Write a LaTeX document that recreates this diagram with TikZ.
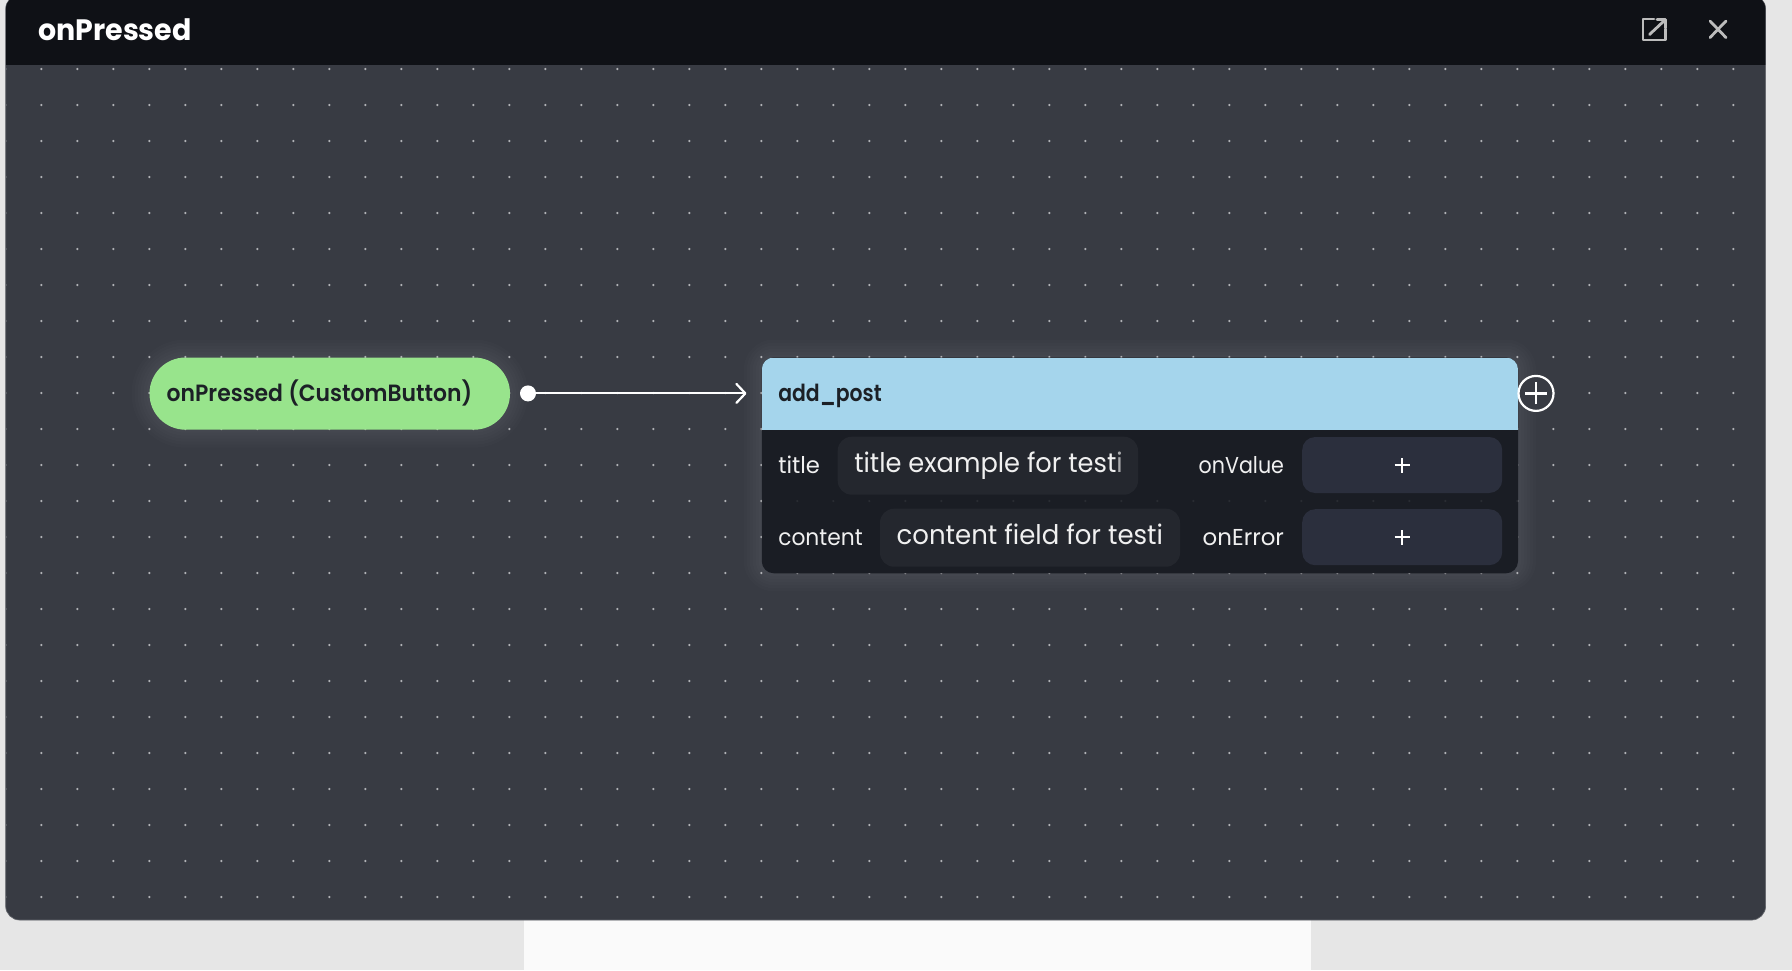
\documentclass[tikz,border=0pt]{standalone}
\usepackage{fontspec}
\usepackage{graphicx}
\setmainfont{Poppins}[BoldFont={Poppins SemiBold}]
\newfontfamily\titlefont{Poppins}[UprightFont={* Bold}]
\usetikzlibrary{arrows.meta}
\definecolor{bgout}{HTML}{E6E6E6}
\definecolor{sheet}{HTML}{FAFAFA}
\definecolor{panel}{HTML}{383B43}
\definecolor{panelline}{HTML}{62656B}
\definecolor{headbar}{HTML}{0F1116}
\definecolor{griddot}{HTML}{B0B2B6}
\definecolor{pillgreen}{HTML}{98E48C}
\definecolor{headblue}{HTML}{A5D5EC}
\definecolor{cardbody}{HTML}{1A1D24}
\definecolor{inputbox}{HTML}{24272E}
\definecolor{addbox}{HTML}{2B2F3D}
\definecolor{darktext}{HTML}{1C2026}
\definecolor{lighttext}{HTML}{F0F0F0}
\definecolor{iconcol}{HTML}{BCBCBC}
\newcommand{\fw}[2]{\resizebox{#1pt}{\height}{#2}}
\tikzset{
  lbl/.style={anchor=base west,inner sep=0pt,outer sep=0pt},
  darklbl/.style={lbl,text=darktext,font=\bfseries\fontsize{23.5}{26}\selectfont},
  fieldlbl/.style={lbl,text=lighttext,font=\fontsize{23}{26}\selectfont},
  valuelbl/.style={lbl,text=lighttext,font=\fontsize{27}{30}\selectfont},
  inputrect/.style={fill=inputbox,rounded corners=14pt,inner sep=0pt,minimum height=58pt},
  addrect/.style={fill=addbox,rounded corners=13pt,inner sep=0pt,minimum width=200pt,minimum height=56pt},
  plusmark/.style={white,line width=2pt},
  iconline/.style={draw=iconcol,line width=2.8pt,line cap=round,line join=round},
  halo/.style={white,opacity=.011}
}
\begin{document}
\begin{tikzpicture}[x=1pt,y=-1pt]
\useasboundingbox (0,0) rectangle (1792,970);
\fill[bgout] (0,0) rectangle (1792,970);
\fill[sheet] (524,915) rectangle (1311,970);
% panel
\fill[panel,rounded corners=14pt,draw=panelline,line width=.7pt] (5.7,-5) rectangle (1765.6,920);
\begin{scope}
  \clip[rounded corners=14pt] (6,-5) rectangle (1765.3,919.6);
  \fill[headbar] (0,-5) rectangle (1792,64.6);
  \foreach \i in {0,...,48}{
    \foreach \j in {0,...,23}{
      \fill[griddot] ({5.3+36*\i},{69+36*\j}) circle (1.25pt);
    }
  }
\end{scope}
% halos
\foreach \g in {3,6,9,12,15,18}{
  \fill[halo,rounded corners={36+\g}] ({149.5-\g},{357.5-\g}) rectangle ({510+\g},{429.7+\g});
  \fill[halo,rounded corners={12+\g}] ({761.8-\g},{357.5-\g}) rectangle ({1518+\g},{573.3+\g});
}
% trigger pill
\node[fill=pillgreen,rounded corners=36pt,inner sep=0pt,minimum width=360.5pt,minimum height=72.2pt] (pill) at (329.75,393.6) {};
\node[darklbl] (pilltext) at (166.7,401) {\fw{305.5}{onPressed (CustomButton)}};
% action card
\node[fill=cardbody,rounded corners=12pt,inner sep=0pt,minimum width=756.2pt,minimum height=215.8pt] (card) at (1139.9,465.4) {};
\foreach \i in {21,...,42}{
  \fill[griddot,opacity=.10] ({5.3+36*\i},501) circle (1.2pt);
}
\begin{scope}
  \clip[rounded corners=12pt] (761.8,357.5) rectangle (1518,573.3);
  \fill[headblue] (761.8,357.5) rectangle (1518,429.7);
\end{scope}
\node[darklbl] (cardtitle) at (778.3,401) {\fw{103.4}{add\_post}};
\node[fieldlbl] (titlelbl) at (778.3,473) {\fw{41.7}{title}};
\node[fieldlbl] (contentlbl) at (778.3,545) {\fw{84.4}{content}};
\node[inputrect,minimum width=300.3pt] (titlebox) at (987.85,465.7) {};
\node[inputrect,minimum width=300pt] (contentbox) at (1030,537.7) {};
\node[valuelbl] (titleval) at (854.3,472) {\fw{268.4}{title example for test\textcolor{lighttext!65!inputbox}{i}}};
\node[valuelbl] (contentval) at (896.7,544) {\fw{266.3}{content field for testi}};
\node[fieldlbl] (valuelbl) at (1198.7,473.3) {\fw{85.3}{onValue}};
\node[fieldlbl] (errorlbl) at (1202.7,545) {\fw{81.3}{onError}};
\node[addrect] (valuebtn) at (1402.2,465.0) {};
\node[addrect] (errorbtn) at (1402.2,537.2) {};
\draw[plusmark] ([xshift=-7.5pt]valuebtn.center) -- ([xshift=7.5pt]valuebtn.center);
\draw[plusmark] ([yshift=-7.5pt]valuebtn.center) -- ([yshift=7.5pt]valuebtn.center);
\draw[plusmark] ([xshift=-7.5pt]errorbtn.center) -- ([xshift=7.5pt]errorbtn.center);
\draw[plusmark] ([yshift=-7.5pt]errorbtn.center) -- ([yshift=7.5pt]errorbtn.center);
% connector
\node[circle,fill=white,inner sep=0pt,minimum size=16pt] (handle) at (528,393.4) {};
\coordinate (cardin) at (746.5,393.4);
\draw[white,line width=2pt,-{Straight Barb[length=9pt,width=19pt,line width=2.2pt,round]}] (handle) -- (cardin);
% add-next button
\node[circle,draw=white,line width=2.2pt,fill=panel,inner sep=0pt,minimum size=35pt] (addnext) at (1536,393.4) {};
\draw[plusmark,line width=2.6pt] ([xshift=-11pt]addnext.center) -- ([xshift=11pt]addnext.center);
\draw[plusmark,line width=2.6pt] ([yshift=-11pt]addnext.center) -- ([yshift=11pt]addnext.center);
% header
\node[lbl,text=white,font=\titlefont\fontsize{29.5}{32}\selectfont] (heading) at (38.3,40) {\fw{153.4}{onPressed}};
\draw[iconline] (1654,19) -- (1643,19) -- (1643,40) -- (1665.5,40) -- (1665.5,29);
\draw[iconline] (1649.5,34.5) -- (1665,20);
\draw[iconline] (1657,19.5) -- (1665.5,19.5) -- (1665.5,28);
\draw[iconline] (1710,21) -- (1726,37.6);
\draw[iconline] (1726,21) -- (1710,37.6);
\end{tikzpicture}
\end{document}
